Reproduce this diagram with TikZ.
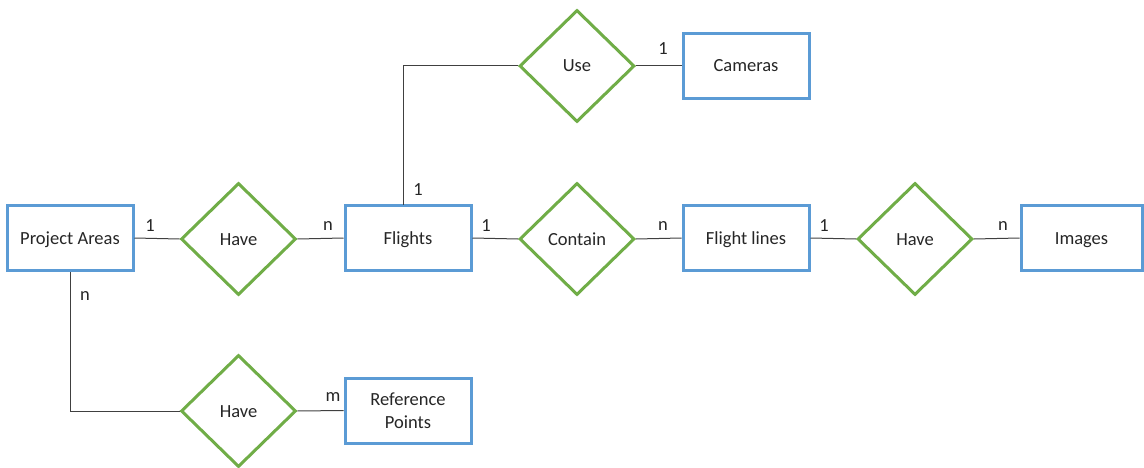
\documentclass[tikz,border=0pt]{standalone}
\usepackage{fontspec}
\setmainfont{Carlito}
\usetikzlibrary{shapes.geometric,calc}
\definecolor{entblue}{HTML}{5B9BD5}
\definecolor{relgreen}{HTML}{70AD47}
\definecolor{txt}{HTML}{262626}
\definecolor{conn}{HTML}{404040}
\begin{document}
\begin{tikzpicture}[x=1pt,y=-1pt,
  font=\fontsize{18.5}{22.5}\selectfont, text=txt,
  entity/.style={draw=entblue, line width=3pt, fill=white, rectangle, minimum width=126pt, minimum height=65pt, inner sep=0pt, align=center},
  oneline/.style={text height=13pt, text depth=1pt},
  rel/.style={draw=relgreen, line width=3pt, fill=white, diamond, minimum width=115pt, minimum height=112pt, inner sep=0pt, text height=13pt, text depth=1pt},
  conn/.style={draw=conn, line width=1pt},
  card/.style={inner sep=0pt}]
\useasboundingbox (0,0) rectangle (1144,468);
\coordinate (fltop) at (403,205);
\node[entity, oneline] (pa) at (70,238) {Project Areas};
\node[entity, oneline] (fl) at (408,238) {Flights};
\node[entity, oneline] (fli) at (746,238) {Flight lines};
\node[entity, oneline, minimum width=121pt] (img) at (1081.5,238) {Images};
\node[entity, oneline] (cam) at (746,66) {Cameras};
\node[entity] (rp) at (408,410.5) {Reference\\Points};
\node[rel] (have1) at (238.5,239) {Have};
\node[rel] (contain) at (577,239) {Contain};
\node[rel] (have2) at (915,239) {Have};
\node[rel] (use) at (577,66) {Use};
\node[rel] (have3) at (238.5,411) {Have};
\draw[conn] (pa.east) -- (have1.west);
\draw[conn] (have1.east) -- (fl.west);
\draw[conn] (fl.east) -- (contain.west);
\draw[conn] (contain.east) -- (fli.west);
\draw[conn] (fli.east) -- (have2.west);
\draw[conn] (have2.east) -- (img.west);
\draw[conn] (use.east) -- (cam.west);
\draw[conn] (fltop) |- (use.west);
\draw[conn] (pa.south) |- (have3.west);
\draw[conn] (have3.east) -- (rp.west);
% cardinalities
\node[card] (c1) at (150,226) {1};
\node[card] (c2) at (328,226) {n};
\node[card] (c3) at (486,226) {1};
\node[card] (c4) at (663,226) {n};
\node[card] (c5) at (824,226) {1};
\node[card] (c6) at (1003,226) {n};
\node[card] (c7) at (663,49) {1};
\node[card] (c8) at (418,190) {1};
\node[card] (c9) at (85,296) {n};
\node[card] (c10) at (333,397) {m};
\end{tikzpicture}
\end{document}
